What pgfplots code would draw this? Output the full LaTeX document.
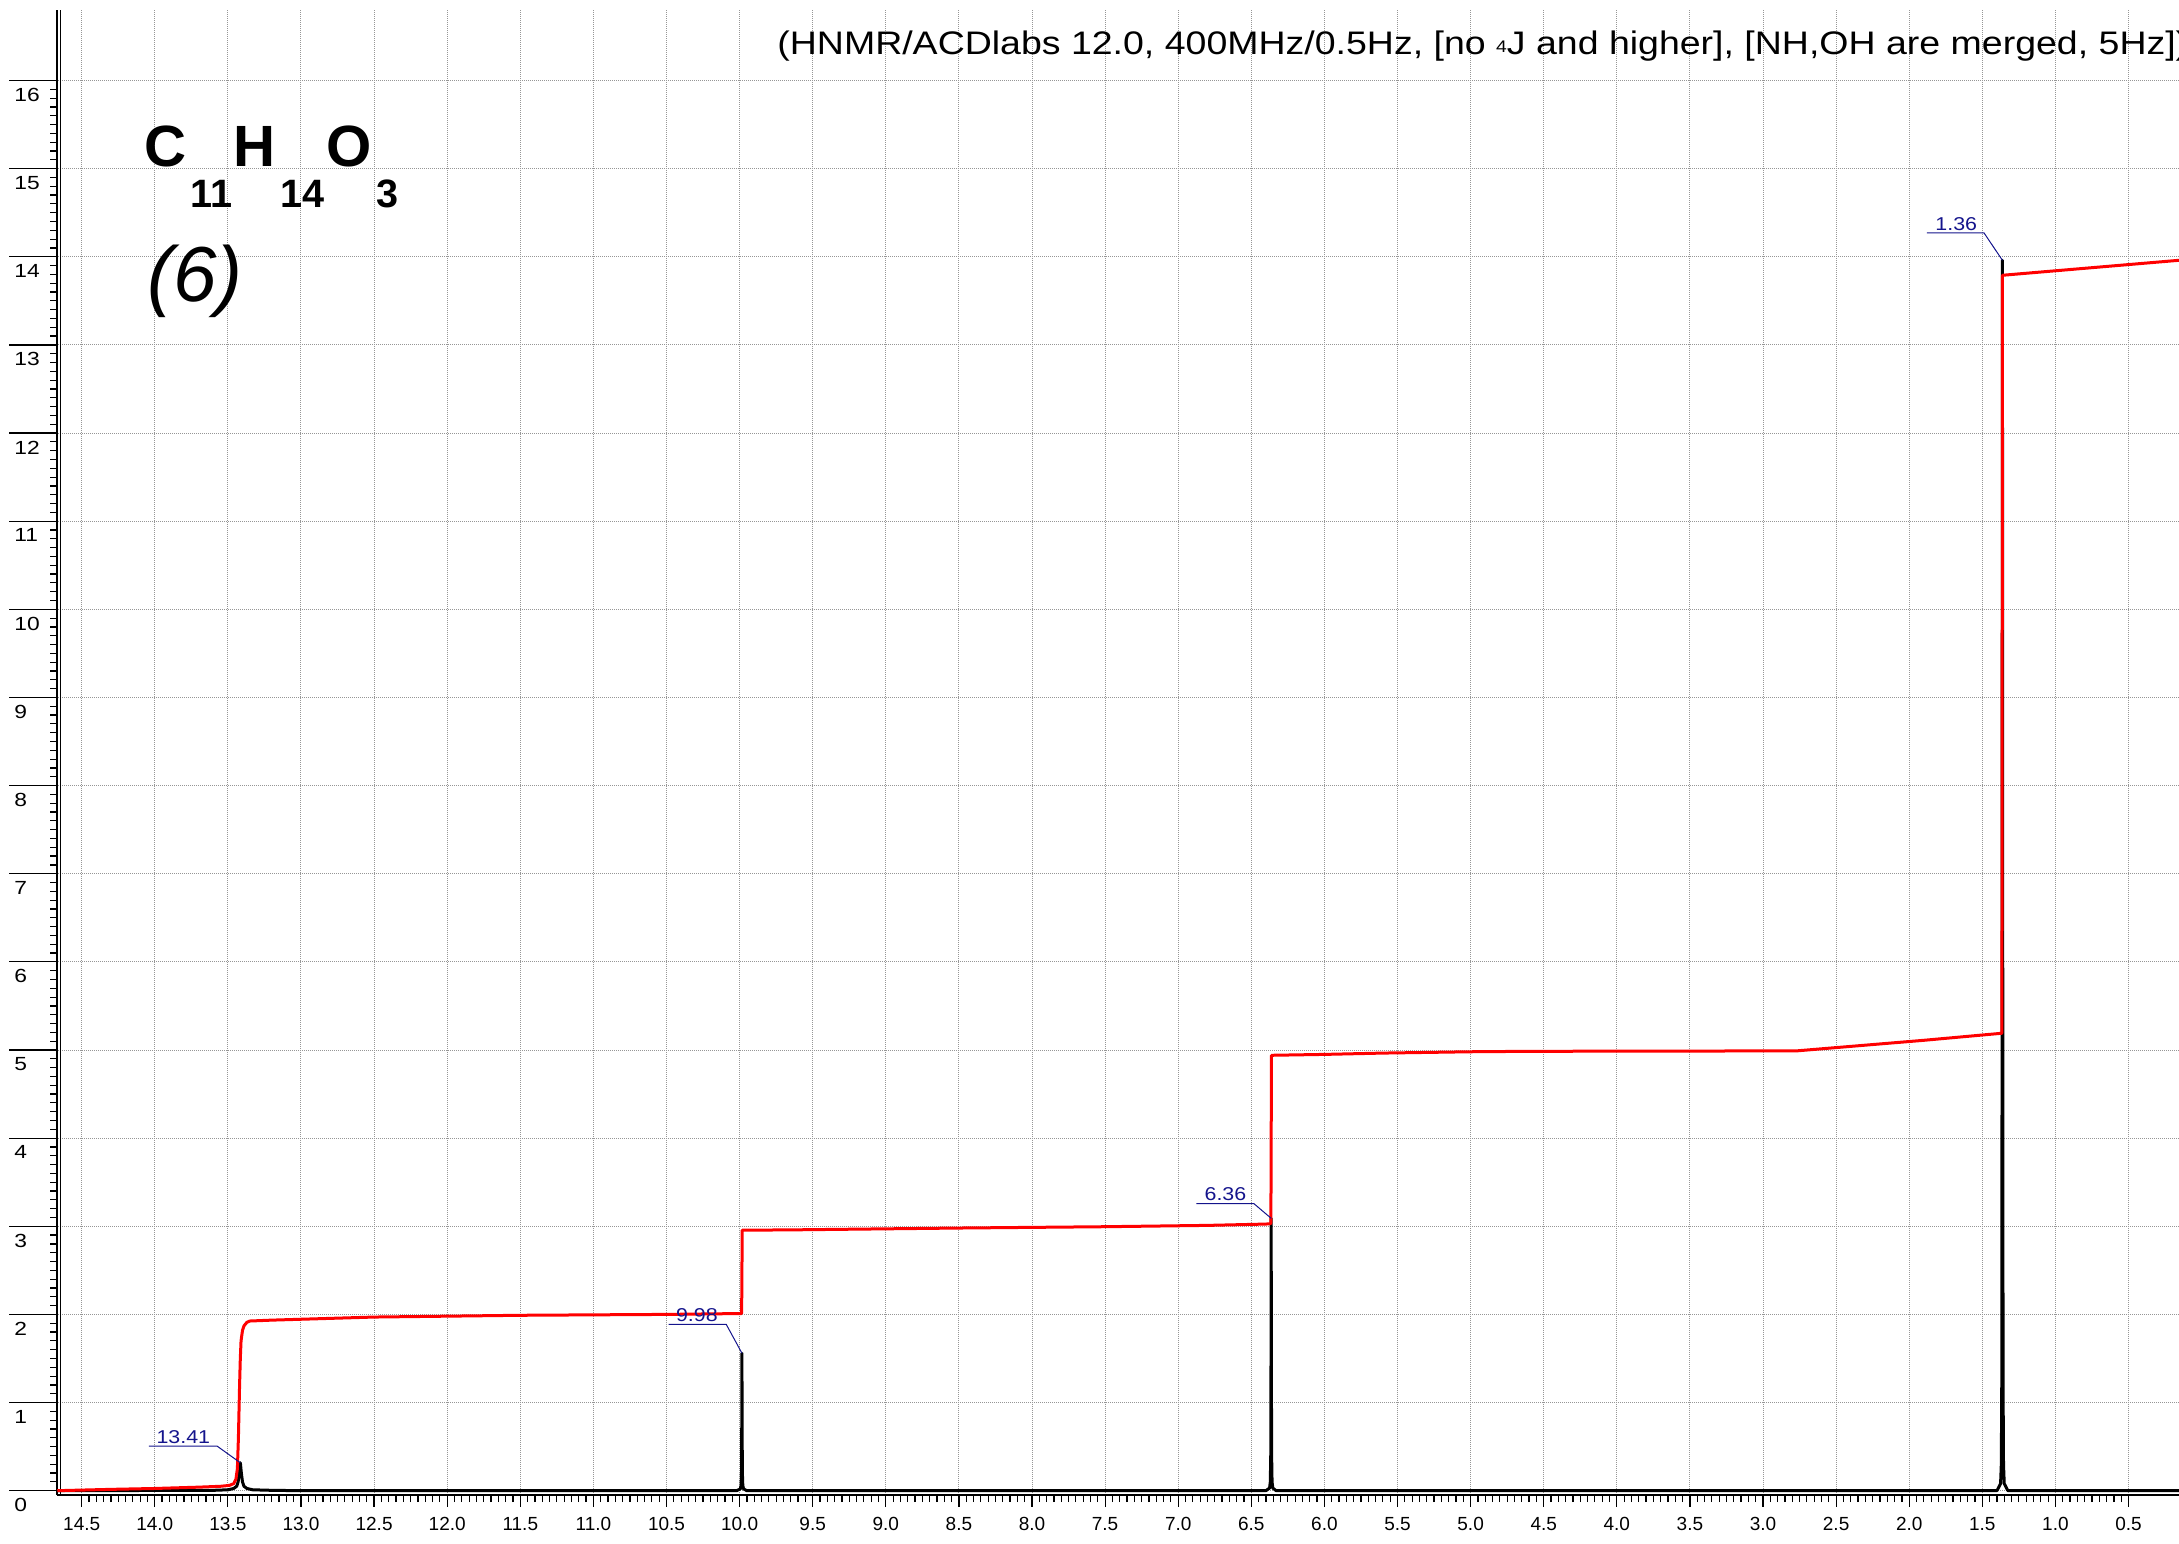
\documentclass[border=0pt]{standalone}
\usepackage{graphicx}
\usepackage{pgfplots}
\pgfplotsset{compat=1.18}
\usepackage{fontspec}
\setmainfont{Liberation Sans}
\definecolor{annot}{RGB}{20,20,140}
\definecolor{gridc}{RGB}{150,150,150}
\definecolor{intred}{RGB}{255,0,0}
\newcommand{\annfont}{\fontsize{9.3pt}{10pt}\selectfont}
\newcommand{\subf}[1]{\raisebox{-20.5pt}{\fontsize{19.8pt}{20pt}\selectfont #1}}
\begin{document}
\begin{tikzpicture}
\begin{axis}[
  at={(28.65pt,24pt)}, anchor=south west,
  width=1060.85pt, height=742.5pt, scale only axis,
  x dir=reverse,
  xmin=0.155, xmax=14.667, ymin=-0.049, ymax=16.80,
  axis x line*=bottom, axis y line*=left,
  axis line style={-, line width=1pt, black},
  xtick={0.5,1.0,...,14.5}, ytick={0,1,...,16},
  minor x tick num=9, minor y tick num=9,
  tick align=outside,
  major tick length=5.8pt, minor tick length=3.6pt,
  tick style={black, line width=0.6pt},
  grid=major,
  major grid style={gridc, line width=0.5pt, dash pattern=on 0.5pt off 0.5pt},
  clip=false,
  /pgf/number format/assume math mode=true,
  ticklabel style={font=\fontsize{9.5pt}{11pt}\selectfont, inner sep=0pt},
  xticklabel style={anchor=north, yshift=-5pt, /pgf/number format/.cd, fixed, fixed zerofill, precision=1},
  yticklabel={\scalebox{1.2}[1]{\pgfmathprintnumber{\tick}}},
  yticklabel style={anchor=north west, xshift=-15.85pt, yshift=-3.65pt},
]
% long y major ticks
\pgfplotsinvokeforeach{0,1,...,16}{
  \draw[black, line width=0.6pt] ([xshift=-24pt]axis cs:14.667,#1) -- (axis cs:14.667,#1);
}
% second vertical line of the y axis
\draw[black, line width=0.7pt] ([xshift=1.7pt]axis cs:14.667,-0.049) -- ([xshift=1.7pt]axis cs:14.667,16.80);

% spectrum
\addplot[black, line width=1.5pt, line join=round] coordinates {
(14.667,0) (13.60,0.004) (13.50,0.01) (13.46,0.025) (13.44,0.05) (13.43,0.10)
(13.422,0.20) (13.417,0.29) (13.415,0.317) (13.413,0.29) (13.408,0.20) (13.40,0.10)
(13.39,0.05) (13.37,0.025) (13.33,0.01) (13.2,0.004) (13.0,0)
(10.02,0) (9.995,0.02) (9.99,0.06) (9.987,0.2) (9.985,0.8) (9.984,1.56)
(9.983,0.8) (9.981,0.2) (9.978,0.06) (9.973,0.02) (9.95,0)
(6.40,0) (6.375,0.03) (6.37,0.1) (6.367,0.4) (6.365,1.6) (6.364,3.09)
(6.363,1.6) (6.361,0.4) (6.358,0.1) (6.353,0.03) (6.33,0)
(1.40,0) (1.375,0.08) (1.37,0.3) (1.367,1.2) (1.365,5.0) (1.3625,13.96)
(1.36,5.0) (1.358,1.2) (1.355,0.3) (1.35,0.08) (1.325,0) (0.155,0)
};

% integral
\addplot[intred, line width=1.5pt, line join=round] coordinates {
(14.667,0.0) (14.3,0.015) (14.0,0.025) (13.7,0.04) (13.55,0.05) (13.49,0.06)
(13.46,0.08) (13.445,0.13) (13.435,0.25) (13.428,0.6) (13.42,1.2) (13.415,1.5)
(13.41,1.7) (13.40,1.82) (13.39,1.87) (13.37,1.91) (13.35,1.925) (13.2,1.935)
(12.5,1.97) (11.5,1.99) (10.5,2.0) (9.99,2.01) (9.986,2.01) (9.984,2.5)
(9.982,2.955) (9.6,2.96) (8.5,2.98) (7.5,2.995) (6.8,3.01) (6.4,3.025)
(6.368,3.03) (6.366,3.04) (6.364,4.0) (6.362,4.94) (6.0,4.95) (5.6,4.965)
(5.0,4.98) (4.6,4.985) (2.77,4.99) (1.9,5.11) (1.5,5.17) (1.366,5.19)
(1.364,9.0) (1.362,13.79) (0.155,13.96)
};

% peak annotations
\begin{scope}[annot, line width=0.5pt]
\draw (axis cs:14.04,0.506) -- (axis cs:13.574,0.506) -- (axis cs:13.415,0.317);
\draw (axis cs:10.486,1.886) -- (axis cs:10.091,1.886) -- (axis cs:9.984,1.56);
\draw (axis cs:6.875,3.258) -- (axis cs:6.483,3.258) -- (axis cs:6.364,3.09);
\draw (axis cs:1.880,14.27) -- (axis cs:1.488,14.27) -- (axis cs:1.3625,13.96);
\end{scope}
\begin{scope}[every node/.style={annot, anchor=base, inner sep=0pt, yshift=1.4pt}]
\node at (axis cs:13.805,0.506) {\scalebox{1.15}[1]{\annfont 13.41}};
\node at (axis cs:10.292,1.886) {\scalebox{1.15}[1]{\annfont 9.98}};
\node at (axis cs:6.677,3.258) {\scalebox{1.15}[1]{\annfont 6.36}};
\node at (axis cs:1.678,14.27) {\scalebox{1.15}[1]{\annfont 1.36}};
\end{scope}
\end{axis}

% texts
\node[anchor=base west, inner sep=0pt] at (388.5pt,744pt)
  {\scalebox{1.15}[1]{\fontsize{16.3pt}{18pt}\selectfont (HNMR/ACDlabs 12.0, 400MHz/0.5Hz, [no {\fontsize{8.4pt}{9pt}\selectfont\raisebox{1pt}{4}}J and higher], [NH,OH are merged, 5Hz])}};
\node[anchor=base west, inner sep=0pt] at (72pt,688pt)
  {\fontsize{29.1pt}{30pt}\selectfont\bfseries C\kern2.1pt\subf{11}\kern0.7pt H\kern2.1pt\subf{14}\kern1.4pt O\kern2.1pt\subf{3}};
\node[anchor=base west, inner sep=0pt] at (73.5pt,620.65pt)
  {\fontsize{39pt}{42pt}\selectfont\itshape (6)};

\pgfresetboundingbox
\path[use as bounding box] (0,0) rectangle (1089.5pt,771.5pt);
\end{tikzpicture}
\end{document}
